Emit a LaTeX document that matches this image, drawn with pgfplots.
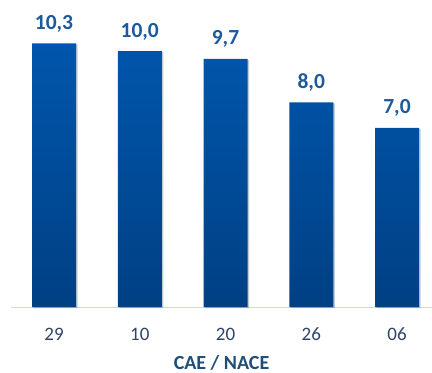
\documentclass[border=0pt]{standalone}
\usepackage{pgfplots}
\pgfplotsset{compat=1.18}
\usetikzlibrary{shadows}
\usepackage{fontspec}
\setmainfont{Carlito}
\definecolor{bartop}{RGB}{0,86,172}
\definecolor{barbot}{RGB}{0,64,132}
\definecolor{lblcol}{RGB}{28,90,155}
\definecolor{tickcol}{RGB}{46,68,104}
\definecolor{titlecol}{RGB}{31,78,121}
\definecolor{axcol}{RGB}{200,220,240}
\begin{document}
\begin{tikzpicture}
\useasboundingbox (0,0) rectangle (432bp,373bp);
\begin{axis}[
  at={(11bp,66bp)}, anchor=south west,
  scale only axis, width=421bp, height=307bp,
  xmin=-0.5015, xmax=4.408, ymin=0, ymax=12,
  clip=false,
  axis x line*=bottom, axis y line=none,
  x axis line style={color=axcol, line width=1bp, -},
  ytick=\empty,
  xtick=data, xticklabels={29,10,20,26,06},
  major tick length=0pt,
  /pgf/number format/assume math mode=true,
  xticklabel style={font=\fontsize{19bp}{22bp}\selectfont, text=tickcol, anchor=base, yshift=-33bp, inner sep=0pt},
  xlabel={CAE / NACE},
  xlabel style={font=\bfseries\fontsize{20bp}{24bp}\selectfont, text=titlecol, anchor=base, at={(axis description cs:0.5,0)}, yshift=-62bp, inner sep=0pt},
  ybar, bar width=44bp,
  nodes near coords,
  nodes near coords style={font=\bfseries\fontsize{21.5bp}{25bp}\selectfont, text=lblcol, anchor=base, yshift=14bp, inner sep=0pt,
    /pgf/number format/.cd, fixed, fixed zerofill, precision=1, use comma},
]
\addplot[draw=none, top color=bartop, bottom color=barbot,
  drop shadow={opacity=0.18, shadow xshift=1.5bp, shadow yshift=-1bp}] coordinates {(0,10.3) (1,10.0) (2,9.7) (3,8.0) (4,7.0)};
\end{axis}
\end{tikzpicture}
\end{document}
